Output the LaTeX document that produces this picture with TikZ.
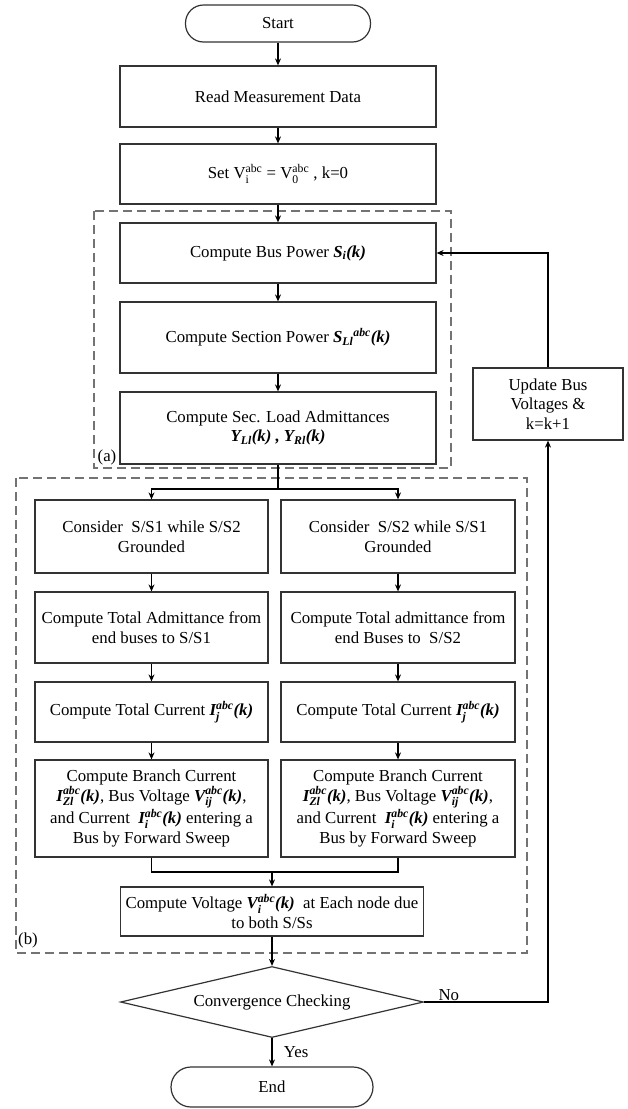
\documentclass[tikz,border=0pt]{standalone}
\usepackage{amsmath}
\usepackage{fontspec}
\setmainfont{Liberation Serif}
\usetikzlibrary{arrows.meta,shapes.geometric}
\newcommand{\bi}[1]{{\bfseries\itshape #1}}
\newcommand{\ud}[2]{$^{\text{#1}}_{\text{#2}}$}

\begin{document}
\begin{tikzpicture}[x=1pt, y=-1pt, font=\fontsize{16.8}{19.5}\selectfont,
        line width=1.2pt, >={Stealth[length=7pt,width=6pt]},
        box/.style = {draw=black!80, align=center, inner sep=2pt},
        term/.style = {draw=black!80, rounded corners=18pt, minimum width=185pt, minimum height=37pt},
        grp/.style = {draw=black!55, dash pattern=on 9pt off 5pt, line width=1.5pt}]
        \useasboundingbox (0,0) rectangle (627,1109);

        % dashed groups
        \draw[grp] (94,211) rectangle (451,468);
        \draw[grp] (16,478) rectangle (527,953);
        \node (lbla) at (107,457) {(a)};
        \node (lblb) at (28,940) {(b)};

        % main column
        \node[term] (start) at (278,23.5) {Start};
        \node[box, minimum width=316pt, minimum height=61pt] (read) at (278,96.5) {Read Measurement Data};
        \node[box, minimum width=316pt, minimum height=60pt] (setv) at (278,174) {Set V\ud{abc}{i} = V\ud{abc}{0} , k=0};
        \node[box, minimum width=316pt, minimum height=60pt] (bus) at (278,253) {Compute Bus Power \bi{S\textsubscript{i}(k)}};
        \node[box, minimum width=316pt, minimum height=71pt] (sec) at (278,337.5) {Compute Section Power \bi{S\textsubscript{Ll}\ud{abc}{}(k)}};
        \node[box, minimum width=316pt, minimum height=72pt] (adm) at (278,428) {Compute Sec. Load Admittances\\\bi{Y\textsubscript{Ll}(k) , Y\textsubscript{Rl}(k)}};

        \node[box, minimum width=150pt, minimum height=72pt] (upd) at (548,404) {Update Bus\\Voltages \&\\k=k+1};

        % left branch
        \node[box, minimum width=233pt, minimum height=73pt] (cons1) at (151.5,536.5) {Consider~ S/S1 while S/S2\\Grounded};
        \node[box, minimum width=233pt, minimum height=71pt] (tadm1) at (151.5,627.5) {Compute Total Admittance from\\end buses to S/S1};
        \node[box, minimum width=233pt, minimum height=60pt] (tcur1) at (151.5,712) {Compute Total Current \bi{I\ud{abc}{j}(k)}};
        \node[box, minimum width=233pt, minimum height=97pt] (br1) at (151.5,808.5) {Compute Branch Current\\\bi{I\ud{abc}{Zl}(k)}, Bus Voltage \bi{V\ud{abc}{ij}(k)},\\and Current~ \bi{I\ud{abc}{i}(k)} entering a\\Bus by Forward Sweep};

        % right branch
        \node[box, minimum width=234pt, minimum height=73pt] (cons2) at (398,536.5) {Consider~ S/S2 while S/S1\\Grounded};
        \node[box, minimum width=234pt, minimum height=71pt] (tadm2) at (398,627.5) {Compute Total admittance from\\end Buses to~ S/S2};
        \node[box, minimum width=234pt, minimum height=60pt] (tcur2) at (398,712) {Compute Total Current \bi{I\ud{abc}{j}(k)}};
        \node[box, minimum width=234pt, minimum height=97pt] (br2) at (398,808.5) {Compute Branch Current\\\bi{I\ud{abc}{Zl}(k)}, Bus Voltage \bi{V\ud{abc}{ij}(k)},\\and Current~ \bi{I\ud{abc}{i}(k)} entering a\\Bus by Forward Sweep};

        % bottom
        \node[box, minimum width=303pt, minimum height=49pt] (volt) at (272,911.5) {Compute Voltage \bi{V\ud{abc}{i}(k)}~ at Each node due\\to both S/Ss};
        \node[diamond, draw=black!80, aspect=4.27, inner sep=0pt, minimum width=303pt, minimum height=71pt] (conv) at (272,1002) {Convergence Checking};
        \node[term, minimum width=202pt, minimum height=40pt, rounded corners=20pt] (end) at (272,1087) {End};

        \coordinate (spl) at (278,489);
        \coordinate (mrg) at (272,872);

        \draw[->] (start) -- (read);
        \draw[->] (read) -- (setv);
        \draw[->] (setv) -- (bus);
        \draw[->] (bus) -- (sec);
        \draw[->] (sec) -- (adm);
        \draw (adm) -- (spl);
        \draw[->] (spl) -| (cons1);
        \draw[->] (spl) -| (cons2);

        \draw[->] (cons1) -- (tadm1);
        \draw[->] (tadm1) -- (tcur1);
        \draw[->] (tcur1) -- (br1);
        \draw[->] (cons2) -- (tadm2);
        \draw[->] (tadm2) -- (tcur2);
        \draw[->] (tcur2) -- (br2);

        \draw (br1) |- (mrg) -| (br2);
        \draw[->] (mrg) -- (volt);
        \draw[->] (volt) -- (conv);
        \draw[->] (conv) -- node[right, xshift=8pt] {Yes} (end);
        \draw[->] (conv.east) -| node[pos=0.1, above, inner sep=1pt] {No} (upd);
        \draw[->] (upd) |- (bus);
\end{tikzpicture}
\end{document}
